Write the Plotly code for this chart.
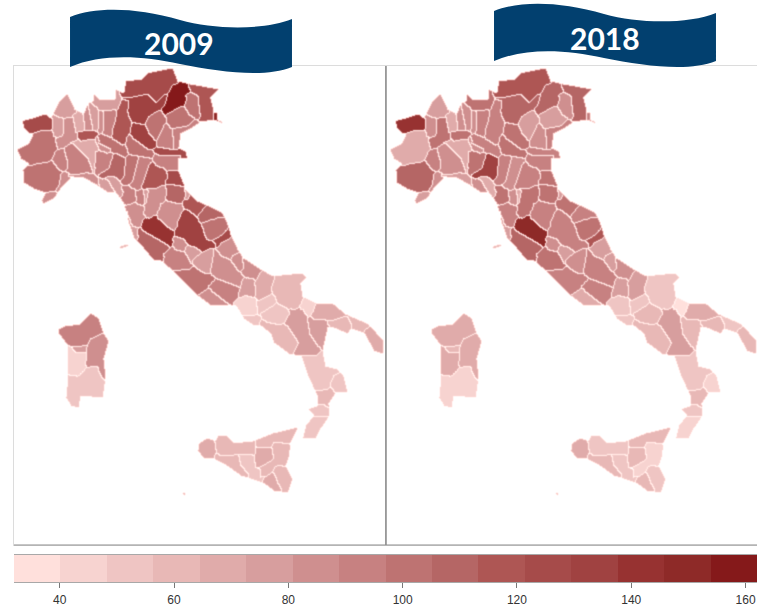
from bisect import bisect_right

import numpy as np
import plotly.graph_objects as go
from plotly.subplots import make_subplots

WIDTH = 757
HEIGHT = 609

# map units: horizontal and vertical position on the 2009 panel
COAST_MAINLAND = [
    (21,120),(33,117),(45,113),(50,117),(58,102),(67,93),(74,108),(83,113),(87,103),(93,100),(93,92),
    (100,99),(115,98),(114,88),(123,92),(125,80),(142,78),(147,72),(172,67),(177,80),(190,83),(218,88),
    (210,97),(213,110),(217,112),(217,118),(225,123),(222,123),(213,119),(200,121),(190,128),(180,133),
    (178,147),(185,150),(187,158),(178,158),(178,170),(185,188),(197,200),(213,207),(222,212),(227,223),
    (230,233),(237,248),(243,257),(260,268),(272,275),(302,272),(306,277),(300,283),(302,295),(317,303),
    (333,303),(345,313),(368,323),(383,340),(382,353),(373,350),(363,332),(350,328),(347,333),(333,327),
    (327,327),(323,345),(323,355),(325,365),(337,368),(343,375),(347,392),(335,392),(328,403),(329,415),
    (320,428),(315,438),(302,437),(305,425),(313,415),(307,408),(317,405),(317,397),(307,375),(300,355),
    (288,353),(273,342),(270,333),(260,325),(253,325),(243,318),(235,305),(210,305),(197,295),(175,273),
    (160,260),(153,260),(138,242),(133,237),(128,223),(123,203),(115,192),(107,192),(97,185),(83,177),
    (70,177),(60,188),(53,198),(42,203),(41,200),(45,192),(33,188),(23,182),(22,170),(28,163),(20,158),
    (16,149),(28,143),(32,134),(28,132),(23,127),
]
COAST_SARDINIA = [
    (58,328),(65,325),(80,323),(90,312),(98,317),(103,332),(108,340),(103,358),(105,377),(102,397),
    (80,395),(78,407),(70,405),(65,397),(67,377),(67,345),(58,333),
]
COAST_SICILY = [
    (198,443),(207,437),(215,440),(217,435),(227,435),(233,442),(253,440),(273,432),(298,426),(290,442),
    (288,457),(285,465),(292,478),(287,492),(273,490),(262,482),(240,475),(223,463),(210,457),(203,458),
    (197,450),
]
OUTLINES = {
    "Aosta": [(21,120),(33,117),(43,114),(50,117),(51,127),(40,128),(28,132),(23,127)],
    "Torino": [(16,149),(28,143),(32,134),(42,130),(52,132),(55,142),(53,153),(47,160),(30,163),(21,158),(17,153)],
    "Cuneo": [(23,170),(37,163),(52,162),(60,172),(58,183),(52,190),(33,188),(23,182)],
    "Imperia": [(41,202),(45,193),(53,191),(55,197),(47,202)],
    "Savona": [(57,192),(60,175),(68,175),(77,177),(60,188)],
    "Genova": [(68,175),(87,172),(98,183),(97,188),(80,177)],
    "La Spezia": [(98,182),(107,180),(113,192),(108,192)],
    "Asti": [(54,153),(62,150),(68,165),(58,168),(54,162)],
    "Alessandria": [(65,150),(72,142),(87,157),(90,170),(80,172),(70,173),(67,165)],
    "Verbania": [(58,100),(67,93),(75,105),(72,115),(60,117),(53,110)],
    "Novara": [(72,115),(80,113),(83,128),(75,130)],
    "Vercelli": [(63,118),(72,117),(75,138),(57,145),(55,140),(63,135)],
    "Biella": [(52,117),(62,117),(62,133),(53,135)],
    "Pavia": [(72,142),(92,138),(98,148),(92,168),(87,157)],
    "Milano": [(78,132),(95,131),(92,138),(80,140)],
    "Lodi": [(95,138),(110,148),(107,152),(98,147)],
    "Varese": [(83,110),(90,108),(92,128),(85,128)],
    "Como": [(88,108),(97,108),(98,128),(92,128)],
    "Lecco": [(98,110),(102,110),(103,130),(98,130)],
    "Sondrio": [(92,93),(95,92),(100,100),(115,98),(118,107),(100,110),(97,107)],
    "Bergamo": [(103,110),(115,110),(115,127),(110,135),(103,131)],
    "Brescia": [(118,107),(128,100),(125,113),(128,123),(122,142),(112,137),(112,128),(115,118)],
    "Cremona": [(100,135),(112,138),(127,150),(125,155),(113,150),(98,142)],
    "Mantova": [(128,138),(132,138),(152,153),(147,155),(127,150)],
    "Trento": [(128,97),(147,93),(155,102),(165,93),(165,102),(152,110),(142,122),(132,118),(128,110)],
    "Bolzano": [(125,80),(143,80),(148,70),(172,67),(177,80),(170,85),(165,93),(155,102),(147,93),(128,97),(127,88)],
    "Belluno": [(172,85),(187,83),(185,100),(163,112),(165,102)],
    "Udine": [(188,84),(218,88),(210,98),(215,110),(213,120),(200,120),(197,95)],
    "Pordenone": [(185,95),(197,95),(199,117),(188,113)],
    "Gorizia": [(213,112),(217,112),(216,120),(213,119)],
    "Trieste": [(218,118),(225,123),(222,124)],
    "Treviso": [(168,115),(182,108),(192,117),(187,125),(170,128)],
    "Venezia": [(170,128),(187,125),(198,120),(177,135),(178,148),(172,148),(173,138)],
    "Vicenza": [(148,117),(160,112),(163,125),(155,138),(148,132)],
    "Verona": [(133,125),(142,125),(148,132),(155,143),(147,147),(133,137)],
    "Padova": [(163,125),(172,128),(172,148),(157,143)],
    "Rovigo": [(155,148),(185,150),(185,158),(158,155)],
    "Piacenza": [(95,150),(110,153),(108,167),(97,170),(94,163)],
    "Parma": [(115,153),(123,157),(123,177),(113,175),(100,175),(108,168)],
    "Reggio Emilia": [(127,157),(137,157),(132,180),(122,182)],
    "Modena": [(138,157),(148,158),(138,187),(130,187)],
    "Bologna": [(150,165),(163,168),(165,177),(155,188),(143,185)],
    "Ferrara": [(155,155),(180,155),(177,168),(167,168),(157,163)],
    "Ravenna": [(168,172),(178,170),(183,185),(167,180)],
    "Forli": [(168,185),(182,186),(185,192),(177,202),(167,197)],
    "Rimini": [(183,188),(190,193),(187,198)],
    "Massa": [(107,177),(113,175),(122,192),(117,193)],
    "Lucca": [(122,188),(132,187),(135,200),(125,205)],
    "Pistoia": [(135,192),(143,192),(143,203),(136,202)],
    "Prato": [(143,192),(148,190),(150,200),(144,203)],
    "Firenze": [(148,188),(163,188),(162,202),(150,217),(143,212)],
    "Pisa": [(123,205),(135,202),(143,207),(142,217),(132,223)],
    "Livorno": [(125,207),(128,227),(137,237),(133,237)],
    "Elba": [(118,246),(127,243),(128,245),(120,248)],
    "Siena": [(145,220),(153,215),(172,230),(170,243),(160,237),(147,228)],
    "Perugia": [(177,223),(185,212),(195,218),(203,237),(212,243),(200,248),(190,242),(175,233)],
    "Arezzo": [(160,203),(178,203),(175,227),(170,228),(158,217)],
    "Grosseto": [(138,233),(155,240),(167,247),(160,258),(153,260),(140,247)],
    "Pesaro": [(185,203),(190,193),(205,203),(197,213)],
    "Ancona": [(200,213),(208,205),(222,212),(215,217),(200,220)],
    "Macerata": [(203,223),(217,217),(225,223),(220,233),(207,238)],
    "Fermo": [(215,240),(228,232),(230,235),(218,243)],
    "Ascoli": [(220,243),(232,238),(238,252),(230,255),(222,253)],
    "Teramo": [(232,255),(238,252),(243,268),(237,268)],
    "Viterbo": [(163,253),(172,248),(185,255),(190,267),(172,270)],
    "Terni": [(173,238),(183,238),(185,248),(175,248)],
    "Rieti": [(185,248),(195,247),(198,250),(190,260)],
    "Pescara": [(193,260),(210,250),(215,268),(202,270)],
    "L'Aquila": [(213,253),(227,260),(242,277),(238,285),(217,277),(210,268)],
    "Chieti": [(243,258),(260,268),(255,278),(243,273)],
    "Isernia": [(242,280),(252,278),(253,295),(240,293)],
    "Campobasso": [(260,273),(272,275),(268,293),(257,297),(255,283)],
    "Roma": [(172,270),(190,268),(213,278),(207,287),(197,293),(183,283)],
    "Frosinone": [(208,285),(217,278),(238,287),(230,303),(217,297)],
    "Latina": [(198,295),(208,288),(230,305),(213,307),(203,302)],
    "Caserta": [(235,303),(245,295),(253,298),(257,312),(250,315),(242,313)],
    "Napoli": [(243,315),(257,315),(257,323),(248,323)],
    "Avellino": [(257,302),(272,295),(275,303),(257,312)],
    "Benevento": [(262,313),(275,303),(288,312),(280,322),(267,320)],
    "Salerno": [(260,322),(270,323),(287,327),(297,343),(285,353),(273,340)],
    "Foggia": [(275,277),(303,272),(305,278),(300,283),(302,297),(295,308),(277,300),(272,287)],
    "Barletta": [(303,297),(315,303),(308,313),(300,308)],
    "Bari": [(315,305),(333,305),(345,313),(333,318),(313,318)],
    "Taranto": [(327,322),(343,317),(350,323),(347,333),(333,327)],
    "Brindisi": [(350,315),(368,323),(362,330),(352,328)],
    "Lecce": [(365,330),(375,327),(383,340),(382,352),(373,350)],
    "Matera": [(308,320),(325,320),(330,337),(323,345),(317,343),(310,333)],
    "Potenza": [(290,310),(302,308),(308,333),(317,347),(317,355),(298,353),(298,340),(287,323)],
    "Cosenza": [(300,355),(323,355),(325,365),(337,370),(330,380),(327,388),(315,390),(307,375)],
    "Crotone": [(333,375),(343,375),(347,392),(333,390),(330,383)],
    "Catanzaro": [(315,390),(330,388),(335,392),(327,403),(318,402)],
    "Vibo": [(307,408),(322,403),(327,415),(313,415)],
    "Reggio Calabria": [(312,417),(327,417),(320,428),(315,438),(302,437),(305,427)],
    "Sassari": [(58,328),(65,325),(80,323),(90,312),(98,317),(103,332),(90,338),(80,345),(68,343)],
    "Nuoro": [(90,338),(103,332),(108,340),(103,358),(105,377),(98,375),(97,365),(85,362),(87,348),(90,343)],
    "Oristano": [(67,345),(75,352),(85,352),(85,362),(78,375),(70,372),(67,360)],
    "Ogliastra": [(73,347),(85,345),(85,350),(75,352)],
    "Cagliari": [(67,377),(78,375),(95,365),(102,378),(102,397),(80,397),(77,407),(70,405),(65,397)],
    "Trapani": [(200,438),(210,437),(215,448),(212,457),(205,458),(198,450)],
    "Palermo": [(217,435),(227,437),(233,442),(253,440),(253,453),(240,452),(220,455),(215,447)],
    "Messina": [(257,440),(273,432),(297,426),(290,442),(273,440),(270,445),(257,445)],
    "Caltanissetta": [(238,455),(250,453),(252,470),(260,470),(262,480),(252,478),(240,463)],
    "Enna": [(257,448),(270,448),(272,458),(257,465)],
    "Agrigento": [(215,455),(238,455),(240,465),(248,475),(240,475),(223,463)],
    "Catania": [(273,442),(288,443),(283,463),(273,463),(260,477),(260,467),(272,460)],
    "Siracusa": [(278,465),(288,470),(292,478),(287,492),(278,480)],
    "Ragusa": [(263,480),(273,477),(278,490),(270,490)],
    "Lampedusa": [(181,492),(185,492),(184,495)],
}

PROVINCES = list(OUTLINES)

VALUES_2009 = [
    123, 100, 105, 82, 85, 85, 80, 90, 90, 80, 70, 85, 78, 72, 115, 85, 88, 80, 85, 80,
    90, 118, 100, 105, 135, 125, 155, 120, 100, 150, 70, 105, 95, 105, 130, 90, 125, 90,
    110, 105, 95, 118, 90, 125, 110, 80, 75, 95, 90, 80, 88, 85, 80, 60, 145, 135, 88,
    112, 118, 108, 98, 125, 88, 85, 95, 82, 78, 78, 88, 85, 75, 72, 100, 90, 82, 44, 52,
    52, 52, 60, 60, 42, 66, 58, 58, 66, 75, 75, 52, 52, 60, 52, 52, 90, 82, 44, 80, 52,
    70, 60, 58, 56, 72, 60, 58, 58, 66, 60,
]
VALUES_2018 = [
    145, 70, 110, 80, 85, 80, 85, 95, 85, 75, 70, 100, 85, 72, 105, 85, 85, 85, 85, 100,
    90, 90, 95, 100, 108, 118, 110, 112, 85, 90, 60, 75, 90, 80, 100, 85, 95, 105,
    130, 90, 85, 95, 90, 100, 100, 75, 72, 105, 85, 72, 100, 90, 80, 60, 150, 95, 90,
    112, 100, 95, 100, 115, 80, 75, 100, 85, 78, 85, 92, 85, 78, 78, 95, 90, 65, 52, 52,
    56, 62, 62, 52, 36, 66, 58, 56, 60, 60, 78, 52, 44, 62, 52, 44, 66, 66, 66, 60, 44,
    68, 52, 62, 52, 64, 60, 44, 56, 62, 56,
]

BIN_EDGES = [32, 40.1, 48.2, 56.4, 64.5, 72.6, 80.8, 88.9, 97, 105.1, 113.2, 121.4, 129.5, 137.6, 145.8, 153.9, 162]
BIN_COLORS = [
    "#ffe0dc", "#f7d3d0", "#efc5c3", "#e8b8b6", "#e0abaa", "#d79e9e", "#cf8f8f", "#c78181",
    "#be7372", "#b56665", "#ae5654", "#a64b4a", "#a04241", "#973231", "#8e2a28", "#85191a",
]
LEGEND_TICKS = [40, 60, 80, 100, 120, 140, 160]
BANNER_COLOR = "#02406f"
SEA_LEVEL = 25

BIN_CENTRES = [(a + b) / 2 for a, b in zip(BIN_EDGES, BIN_EDGES[1:])]
GRID_X = np.arange(13, 387)
GRID_Y = np.arange(66, 546)


def bin_centre(value):
    return BIN_CENTRES[min(bisect_right(BIN_EDGES, value) - 1, len(BIN_CENTRES) - 1)]


def inside(outline, xx, yy):
    px = np.array([p[0] for p in outline], dtype=float)
    py = np.array([p[1] for p in outline], dtype=float)
    hit = np.zeros(xx.shape, dtype=bool)
    for i in range(len(px)):
        x0, y0, x1, y1 = px[i], py[i], px[i - 1], py[i - 1]
        if y0 == y1:
            continue
        crossing = (y0 > yy) != (y1 > yy)
        hit ^= crossing & (xx < (x1 - x0) * (yy - y0) / (y1 - y0) + x0)
    return hit


def neighbours(a):
    yield np.roll(a, 1, axis=0)
    yield np.roll(a, -1, axis=0)
    yield np.roll(a, 1, axis=1)
    yield np.roll(a, -1, axis=1)


def province_labels():
    # each pixel of land gets the province nearest to it, so neighbours touch
    xx, yy = np.meshgrid(GRID_X, GRID_Y)
    labels = np.full(xx.shape, -1)
    for i, name in enumerate(PROVINCES):
        labels[inside(OUTLINES[name], xx, yy)] = i
    land = inside(OUTLINES["Elba"], xx, yy) | inside(OUTLINES["Lampedusa"], xx, yy)
    for coast in (COAST_MAINLAND, COAST_SARDINIA, COAST_SICILY):
        land |= inside(coast, xx, yy)
    labels[~land] = -1
    for _ in range(40):
        for shifted in neighbours(labels.copy()):
            take = (labels < 0) & land & (shifted >= 0)
            labels[take] = shifted[take]
    return labels


def soften(z):
    for axis in (0, 1):
        z = (np.roll(z, 1, axis=axis) + 3 * z + np.roll(z, -1, axis=axis)) / 5
    return z


def panel_z(labels, values):
    lookup = np.array([bin_centre(v) for v in values] + [SEA_LEVEL], dtype=float)
    z = lookup[labels]
    border = (labels != np.roll(labels, 1, axis=0)) | (labels != np.roll(labels, 1, axis=1))
    z[border & (labels >= 0)] = SEA_LEVEL
    return np.round(soften(z), 1)


def banner_path(dx, dy):
    # wavy ribbon, written in window pixels and turned into paper fractions
    def pt(x, y):
        return f"{(x + dx) / WIDTH:.4f} {1 - (y + dy) / HEIGHT:.4f}"

    return (
        f"M {pt(70, 17)} C {pt(95, 7)} {pt(135, 7)} {pt(180, 20)} "
        f"C {pt(215, 30)} {pt(265, 30)} {pt(292, 19)} L {pt(292, 67)} "
        f"C {pt(265, 78)} {pt(220, 72)} {pt(180, 64)} "
        f"C {pt(140, 55)} {pt(100, 54)} {pt(70, 67)} Z"
    )


labels = province_labels()
z_top = BIN_CENTRES[-1]
colorscale = [[0, "#ffffff"]] + [
    [(c - SEA_LEVEL) / (z_top - SEA_LEVEL), color] for c, color in zip(BIN_CENTRES, BIN_COLORS)
]

fig = make_subplots(rows=1, cols=2)
for col, values in ((1, VALUES_2009), (2, VALUES_2018)):
    fig.add_trace(
        go.Heatmap(
            x=GRID_X,
            y=GRID_Y,
            z=panel_z(labels, values),
            zmin=SEA_LEVEL,
            zmax=z_top,
            colorscale=colorscale,
            showscale=False,
            hoverinfo="skip",
        ),
        row=1,
        col=col,
    )

fig.add_trace(
    go.Bar(
        x=BIN_CENTRES,
        y=[1] * len(BIN_COLORS),
        width=[b - a for a, b in zip(BIN_EDGES, BIN_EDGES[1:])],
        marker=dict(color=BIN_COLORS, line_width=0),
        hoverinfo="x",
        showlegend=False,
        xaxis="x3",
        yaxis="y3",
    )
)

map_axis = dict(showticklabels=False, ticks="", showgrid=False, zeroline=False)
frame = dict(showline=True, mirror=True, linecolor="#dcdcdc", linewidth=1)
fig.update_layout(
    width=WIDTH,
    height=HEIGHT,
    margin=dict(l=0, r=0, t=0, b=0),
    paper_bgcolor="white",
    plot_bgcolor="white",
    bargap=0,
    xaxis=dict(domain=[14 / WIDTH, 386 / WIDTH], range=[14, 386], **map_axis, **frame),
    yaxis=dict(domain=[1 - 545 / HEIGHT, 1 - 66 / HEIGHT], range=[545, 66], **map_axis, **frame),
    xaxis2=dict(domain=[386 / WIDTH, 1], range=[13, 384], **map_axis, **frame),
    yaxis2=dict(domain=[1 - 545 / HEIGHT, 1 - 66 / HEIGHT], range=[545, 66], **map_axis, **frame),
    xaxis3=dict(
        domain=[14 / WIDTH, 1],
        range=[BIN_EDGES[0], BIN_EDGES[-1]],
        tickvals=LEGEND_TICKS,
        ticks="outside",
        ticklen=5,
        tickcolor="#777777",
        ticklabelstandoff=2,
        tickfont=dict(family="Liberation Sans", size=12, color="#333333"),
        showgrid=False,
        zeroline=False,
        showline=True,
        mirror=True,
        linecolor="#a8a8a8",
        anchor="y3",
    ),
    yaxis3=dict(
        domain=[1 - 582 / HEIGHT, 1 - 555 / HEIGHT],
        range=[0, 1],
        showticklabels=False,
        ticks="",
        showgrid=False,
        zeroline=False,
        anchor="x3",
    ),
    shapes=[
        dict(type="path", xref="paper", yref="paper", path=banner_path(0, 0),
             fillcolor=BANNER_COLOR, line_width=0),
        dict(type="path", xref="paper", yref="paper", path=banner_path(424, -6),
             fillcolor=BANNER_COLOR, line_width=0),
        dict(type="line", xref="paper", yref="paper", x0=386 / WIDTH, x1=386 / WIDTH,
             y0=1 - 545 / HEIGHT, y1=1 - 66 / HEIGHT, line=dict(color="#555555", width=1)),
        dict(type="line", xref="paper", yref="paper", x0=14 / WIDTH, x1=1,
             y0=1 - 545 / HEIGHT, y1=1 - 545 / HEIGHT, line=dict(color="#8c8c8c", width=1)),
    ],
    annotations=[
        dict(text="<b>2009</b>", x=179 / WIDTH, y=1 - 43 / HEIGHT, xref="paper", yref="paper",
             xanchor="center", yanchor="middle", showarrow=False,
             font=dict(family="Lato", size=30, color="white")),
        dict(text="<b>2018</b>", x=605 / WIDTH, y=1 - 38 / HEIGHT, xref="paper", yref="paper",
             xanchor="center", yanchor="middle", showarrow=False,
             font=dict(family="Lato", size=30, color="white")),
    ],
)

fig.write_html(
    "out.html",
    config={"displayModeBar": False},
    post_script="document.body.style.margin = '0';",
)
